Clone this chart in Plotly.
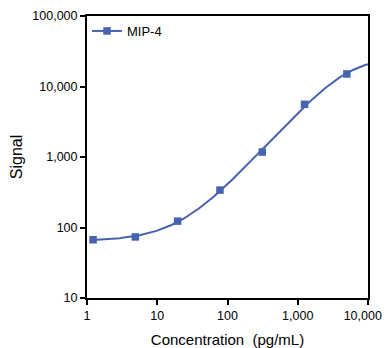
import numpy as np
import plotly.graph_objects as go

# Data
conc = [1.22, 4.88, 19.5, 78.1, 312.5, 1250, 5000]
signal = [67, 73.5, 123, 339, 1175, 5590, 15060]
series_name = "MIP-4"
# value of the fitted curve where it meets the right edge of the plot
curve_end_conc = 10000
curve_end_signal = 20900
x_ticks = [1, 10, 100, 1000, 10000]
# trailing no-break spaces nudge the last label left so it is not cut at the window edge
x_tick_labels = ["1", "10", "100", "1,000", "10,000\u00a0\u00a0\u00a0"]
y_ticks = [10, 100, 1000, 10000, 100000]
y_tick_labels = ["10", "100", "1,000", "10,000", "100,000"]

X = np.array(conc + [curve_end_conc], float)
Y = np.array(signal + [curve_end_signal], float)


def model(p, x):
    a, b, c, d, g = np.exp(p[0]), p[1], np.exp(p[2]), np.exp(p[3]), np.exp(p[4])
    return d + (a - d) / (1 + (x / c) ** b) ** g


def loss(p):
    with np.errstate(all="ignore"):
        y = model(p, X)
    if not np.all(np.isfinite(y)) or np.any(y <= 0):
        return 1e9
    return float(np.sum((np.log10(y) - np.log10(Y)) ** 2))


def nelder_mead(f, x0, step=0.5, iters=8000):
    n = len(x0)
    pts = [np.array(x0, float)]
    for i in range(n):
        v = np.array(x0, float)
        v[i] += step
        pts.append(v)
    vals = [f(v) for v in pts]
    for _ in range(iters):
        order = np.argsort(vals)
        pts = [pts[i] for i in order]
        vals = [vals[i] for i in order]
        cen = np.mean(pts[:-1], axis=0)
        xr = cen + (cen - pts[-1])
        fr = f(xr)
        if fr < vals[0]:
            xe = cen + 2 * (cen - pts[-1])
            fe = f(xe)
            if fe < fr:
                pts[-1], vals[-1] = xe, fe
            else:
                pts[-1], vals[-1] = xr, fr
        elif fr < vals[-2]:
            pts[-1], vals[-1] = xr, fr
        else:
            xc = cen + 0.5 * (pts[-1] - cen)
            fc = f(xc)
            if fc < vals[-1]:
                pts[-1], vals[-1] = xc, fc
            else:
                for i in range(1, n + 1):
                    pts[i] = pts[0] + 0.5 * (pts[i] - pts[0])
                    vals[i] = f(pts[i])
    return pts[int(np.argmin(vals))]


p0 = [np.log(65), 1.0, np.log(3000), np.log(40000), 0.0]
best = nelder_mead(loss, p0)
best = nelder_mead(loss, best, step=0.2)
xs = np.logspace(np.log10(conc[0]), np.log10(curve_end_conc), 400)
ys = model(best, xs)

color = "#4763b0"
font_family = "Liberation Sans, Arial, Helvetica, sans-serif"
fig = go.Figure()
fig.add_trace(go.Scatter(x=xs, y=ys, mode="lines", line=dict(color=color, width=2),
                         showlegend=False, hoverinfo="skip"))
fig.add_trace(go.Scatter(x=conc, y=signal, mode="markers", name=series_name,
                         marker=dict(symbol="square", size=7.5, color=color),
                         showlegend=False))
# legend entry (line + square marker, as in the reference)
fig.add_trace(go.Scatter(x=[None], y=[None], mode="lines+markers", name=series_name,
                         line=dict(color=color, width=2),
                         marker=dict(symbol="square", size=7.5, color=color)))

axis_common = dict(type="log", showline=True, linecolor="black", linewidth=2, mirror=True,
                   ticks="outside", ticklen=5, tickwidth=1.5, tickcolor="black",
                   showgrid=False, zeroline=False, automargin=False,
                   ticklabeloverflow="allow",
                   tickfont=dict(family=font_family, size=12.5, color="black"))

# the page body adds an 8px offset, so the figure is 8px smaller than the window
fig.update_layout(
    width=382, height=340,
    margin=dict(l=79, r=22, t=8, b=50),
    paper_bgcolor="white", plot_bgcolor="white",
    font=dict(family=font_family, color="black"),
    xaxis=dict(range=[0, 4], tickvals=x_ticks, ticktext=x_tick_labels,
               title=dict(text="Concentration  (pg/mL)", font=dict(size=15), standoff=12),
               **axis_common),
    yaxis=dict(range=[1, 5], tickvals=y_ticks, ticktext=y_tick_labels,
               title=dict(text="Signal", font=dict(size=16), standoff=8),
               **axis_common),
    legend=dict(x=0.0, y=1.0, xanchor="left", yanchor="top", bgcolor="rgba(0,0,0,0)",
                font=dict(size=13), itemwidth=30),
)

fig.write_html("out.html")
